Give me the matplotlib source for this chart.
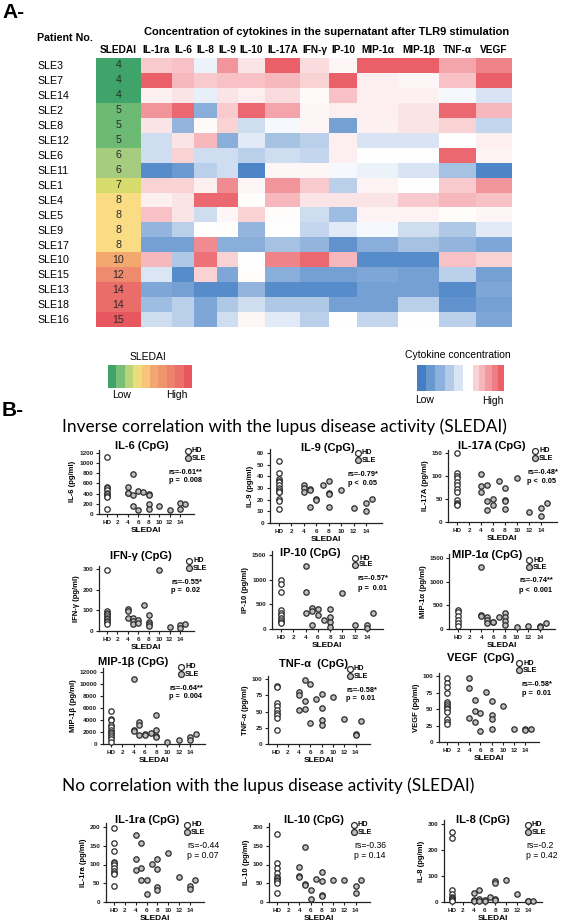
import numpy as np
import matplotlib.pyplot as plt
from matplotlib.colors import LinearSegmentedColormap

plt.rcParams['font.family'] = ['Liberation Sans', 'DejaVu Sans']

# ---------------- data ----------------
patients = ["SLE3", "SLE7", "SLE14", "SLE2", "SLE8", "SLE12", "SLE6", "SLE11", "SLE1",
            "SLE4", "SLE5", "SLE9", "SLE17", "SLE10", "SLE15", "SLE13", "SLE18", "SLE16"]
sledai = [4, 4, 4, 5, 5, 5, 6, 6, 7, 8, 8, 8, 8, 10, 12, 14, 14, 15]
cytokines = ["IL-1ra", "IL-6", "IL-8", "IL-9", "IL-10", "IL-17A", "IFN-γ", "IP-10",
             "MIP-1α", "MIP-1β", "TNF-α", "VEGF"]

# relative concentration (-1 low ... 1 high), one row per patient
heat = [
    [0.30, 0.35, -0.10, 0.60, 0.15, 0.90, 0.20, 0.05, 0.90, 0.90, 0.50, 0.70],
    [0.90, 0.40, 0.30, 0.35, 0.35, 0.40, 0.25, 0.90, 0.10, 0.05, 0.35, 0.90],
    [0.08, 0.15, -0.12, 0.15, 0.10, 0.20, 0.03, 0.35, 0.10, 0.08, -0.05, -0.20],
    [0.60, 0.85, -0.60, 0.30, 0.85, 0.50, 0.05, 0.10, 0.10, 0.15, 0.85, 0.40],
    [0.15, -0.55, 0.03, 0.25, -0.25, -0.05, 0.05, -0.70, 0.08, 0.15, 0.25, -0.30],
    [-0.25, 0.15, 0.40, -0.60, -0.15, -0.45, -0.35, 0.10, -0.20, -0.20, 0.00, 0.10],
    [-0.25, 0.25, -0.25, -0.25, -0.35, -0.25, -0.30, 0.10, 0.00, 0.00, 0.85, 0.07],
    [-0.85, -0.75, -0.35, -0.25, -0.90, 0.05, 0.05, -0.05, -0.10, -0.20, -0.45, -0.90],
    [0.25, 0.25, 0.10, 0.65, 0.05, 0.60, 0.30, -0.35, 0.07, 0.00, 0.30, 0.60],
    [0.08, 0.15, 0.85, 0.85, 0.02, 0.40, 0.15, 0.15, 0.15, 0.30, 0.40, 0.35],
    [0.35, 0.15, -0.25, 0.05, 0.25, 0.02, -0.25, -0.50, 0.07, 0.07, 0.02, 0.05],
    [-0.55, -0.35, 0.00, 0.02, -0.55, 0.00, -0.30, -0.15, -0.05, -0.25, -0.40, -0.15],
    [-0.70, -0.70, 0.65, -0.60, -0.60, -0.45, -0.55, -0.80, -0.60, -0.45, -0.55, -0.65],
    [0.40, -0.40, 0.80, 0.25, 0.00, 0.70, 0.85, 0.40, -0.85, -0.85, 0.35, 0.25],
    [-0.18, -0.85, 0.25, -0.65, 0.02, -0.60, -0.70, -0.70, -0.65, -0.70, -0.35, -0.70],
    [-0.65, -0.70, -0.85, -0.85, -0.55, -0.85, -0.85, -0.85, -0.70, -0.70, -0.85, -0.65],
    [-0.50, -0.35, -0.65, -0.40, -0.25, -0.40, -0.40, -0.70, -0.70, -0.35, -0.80, -0.70],
    [-0.25, -0.35, -0.65, -0.25, 0.05, -0.15, -0.35, 0.00, -0.30, 0.00, -0.35, -0.65],
]

# scatter data: healthy donors and SLE patients (SLE values follow the sledai list)
il6_hd = [1110, 530, 500, 470, 420, 390, 360, 330, 100]
il6_sle = [530, 420, 410, 790, 380, 150, 450, 80, 440, 400, 380, 200, 100, 160, 70, 210, 100, 190]
il9_hd = [53, 43, 38, 36, 35, 33, 30, 28, 27, 27, 21, 19, 12]
il9_sle = [33, 30, 27, 29, 28, 14, 21, 20, 33, 36, 26, 25, 14, 28, 13, 17, 10, 21]
il17a_hd = [150, 107, 100, 95, 88, 80, 72, 65, 47, 42, 40, 38]
il17a_sle = [105, 78, 65, 80, 45, 27, 50, 36, 90, 75, 48, 45, 28, 95, 22, 30, 12, 42]
ifng_hd = [295, 95, 88, 80, 72, 65, 58, 50, 42, 35]
ifng_sle = [108, 98, 62, 62, 48, 35, 55, 38, 125, 78, 45, 35, 25, 295, 20, 30, 15, 35]
ip10_hd = [1000, 920, 750, 380, 330, 280, 230, 180, 150, 120]
ip10_sle = [1280, 740, 320, 420, 370, 90, 410, 290, 190, 410, 250, 140, 50, 720, 80, 80, 30, 320]
mip1a_hd = [400, 350, 280, 200, 130, 60]
mip1a_sle = [1320, 300, 270, 260, 200, 130, 150, 150, 250, 330, 250, 160, 80, 40, 70, 60, 50, 120]
mip1b_hd = [5500, 4200, 3900, 3200, 2800, 2400, 2000, 1800, 1500, 1200, 900, 400]
mip1b_sle = [10700, 2300, 2100, 3600, 3100, 1500, 1600, 1500, 1800, 4800, 2400, 1300, 1100,
             400, 600, 1200, 700, 1700]
tnfa_hd = [90, 88, 63, 58, 52, 48, 44, 40, 22]
tnfa_sle = [80, 75, 53, 99, 66, 54, 92, 32, 69, 77, 56, 37, 29, 73, 38, 16, 14, 36]
vegf_hd = [97, 90, 84, 74, 60, 57, 55, 52, 50, 45, 35, 30, 27]
vegf_sle = [97, 82, 36, 64, 47, 30, 44, 16, 76, 62, 41, 35, 20, 55, 20, 20, 18, 19]
il1ra_hd = [198, 157, 135, 107, 104, 98, 90, 82, 78, 75, 44]
il1ra_sle = [180, 115, 85, 157, 92, 60, 60, 22, 101, 115, 88, 40, 32, 130, 66, 42, 35, 59]
il10_hd = [182, 104, 90, 78, 68, 65, 60, 55, 50, 25]
il10_sle = [93, 70, 68, 147, 48, 45, 33, 7, 62, 80, 55, 20, 17, 58, 59, 43, 23, 60]
il8_hd = [270, 245, 45, 30, 20, 15, 10, 8, 5]
il8_sle = [35, 8, 5, 48, 10, 5, 8, 3, 18, 82, 75, 12, 8, 85, 30, 3, 2, 5]

stats = {
    "IL-6": ("rs=-0.61**", "p =  0.008"), "IL-9": ("rs=-0.79*", "p <  0.05"),
    "IL-17A": ("rs=-0.48*", "p <  0.05"), "IFN-γ": ("rs=-0.55*", "p =  0.02"),
    "IP-10": ("rs=-0.57*", "p =  0.01"), "MIP-1α": ("rs=-0.74**", "p <  0.001"),
    "MIP-1β": ("rs=-0.64**", "p =  0.004"), "TNF-α": ("rs=-0.58*", "p =  0.01"),
    "VEGF": ("rs=-0.58*", "p =  0.01"), "IL-1ra": ("rs=-0.44", "p = 0.07"),
    "IL-10": ("rs=-0.36", "p = 0.14"), "IL-8": ("rs=-0.2", "p = 0.42"),
}

# ---------------- helpers ----------------
W, H = 567, 923
fig = plt.figure(figsize=(W / 100, H / 100), dpi=100)


def add_box(l, t, r, b):
    return fig.add_axes([l / W, 1 - b / H, (r - l) / W, (b - t) / H])


def ftext(x, y, s, **kw):
    fig.text(x / W, 1 - y / H, s, **kw)


cyto_cmap = LinearSegmentedColormap.from_list(
    "cyto", [(0, "#3a78c2"), (0.5, "#ffffff"), (1, "#e84e58")])
sled_cmap = LinearSegmentedColormap.from_list(
    "sled", [(0, "#3fa46a"), (1 / 11, "#6cba74"), (2 / 11, "#a6cc7f"), (3 / 11, "#d6dc6c"),
             (4 / 11, "#f9dc84"), (6 / 11, "#f3a86f"), (8 / 11, "#ee8a6e"),
             (10 / 11, "#eb6d69"), (1, "#e8575f")])

# ---------------- panel A: heatmap ----------------
ftext(2, 12, "A-", fontsize=15, fontweight="bold", va="center")
col_edges = [141, 172, 194, 217, 238, 265, 300, 329, 357, 398, 439, 476, 512]
n = len(patients)
ax = add_box(96, 58, 512, 327)
ax.set_xlim(96, 512)
ax.set_ylim(n, 0)
ax.axis("off")
ax.pcolormesh(col_edges, np.arange(n + 1), np.array(heat), cmap=cyto_cmap, vmin=-1, vmax=1)
ax.pcolormesh([96, 141], np.arange(n + 1), np.array(sledai)[:, None], cmap=sled_cmap,
              vmin=4, vmax=15)
for i, (pname, s) in enumerate(zip(patients, sledai)):
    ax.text(118.5, i + 0.5, str(s), ha="center", va="center", fontsize=7.7, color="#2a2a2a")
    ax.text(37, i + 0.55, pname, ha="left", va="center", fontsize=7.7, clip_on=False)
ax.text(118.5, -0.2, "SLEDAI", ha="center", va="bottom", fontsize=7.3, fontweight="bold")
for j, c in enumerate(cytokines):
    ax.text((col_edges[j] + col_edges[j + 1]) / 2, -0.2, c, ha="center", va="bottom",
            fontsize=7.3, fontweight="bold")
ftext(327, 32, "Concentration of cytokines in the supernatant after TLR9 stimulation",
      ha="center", va="center", fontsize=8, fontweight="bold")
ftext(37, 38, "Patient No.", ha="left", va="center", fontsize=7.7, fontweight="bold")

# legends
lg = add_box(108, 365, 192, 388)
lg.pcolormesh(np.arange(11), [0, 1], np.linspace(4, 15, 10)[None, :], cmap=sled_cmap,
              vmin=4, vmax=15)
lg.axis("off")
ftext(148, 357, "SLEDAI", ha="center", va="center", fontsize=7.5)
ftext(122, 395, "Low", ha="center", va="center", fontsize=7.5)
ftext(177, 395, "High", ha="center", va="center", fontsize=7.5)

lb = add_box(417, 365, 463, 391)
lb.pcolormesh(np.arange(6), [0, 1], np.linspace(-0.95, -0.2, 5)[None, :], cmap=cyto_cmap,
              vmin=-1, vmax=1)
lb.axis("off")
lr = add_box(473, 365, 504, 391)
lr.pcolormesh(np.arange(6), [0, 1], np.linspace(0.25, 0.9, 5)[None, :], cmap=cyto_cmap,
              vmin=-1, vmax=1)
lr.axis("off")
ftext(458, 355, "Cytokine concentration", ha="center", va="center", fontsize=7.5)
ftext(425, 400, "Low", ha="center", va="center", fontsize=7.5)
ftext(493, 401, "High", ha="center", va="center", fontsize=7.5)

# ---------------- panel B: scatter plots ----------------
ftext(2, 411, "B-", fontsize=15, fontweight="bold", va="center")
ftext(62, 427, "Inverse correlation with the lupus disease activity (SLEDAI)",
      ha="left", va="center", fontsize=12.4, family="Lato")
ftext(62, 786, "No correlation with the lupus disease activity (SLEDAI)",
      ha="left", va="center", fontsize=12.4, family="Lato")

sle_x = np.array(sledai) / 2.0
x_ticklabels = ["HD", "2", "4", "6", "8", "10", "12", "14"]
XMIN, XMAX = -0.75, 8.3

# name, hd, sle, top tick, step, title
panels = [
    ("IL-6", il6_hd, il6_sle, 1200, 200, "IL-6 (CpG)"),
    ("IL-9", il9_hd, il9_sle, 60, 10, "IL-9 (CpG)"),
    ("IL-17A", il17a_hd, il17a_sle, 150, 50, "IL-17A (CpG)"),
    ("IFN-γ", ifng_hd, ifng_sle, 300, 100, "IFN-γ (CpG)"),
    ("IP-10", ip10_hd, ip10_sle, 1500, 500, "IP-10 (CpG)"),
    ("MIP-1α", mip1a_hd, mip1a_sle, 1500, 500, "MIP-1α (CpG)"),
    ("MIP-1β", mip1b_hd, mip1b_sle, 12000, 2000, "MIP-1β (CpG)"),
    ("TNF-α", tnfa_hd, tnfa_sle, 100, 25, "TNF-α  (CpG)"),
    ("VEGF", vegf_hd, vegf_sle, 100, 25, "VEGF  (CpG)"),
    ("IL-1ra", il1ra_hd, il1ra_sle, 200, 50, "IL-1ra (CpG)"),
    ("IL-10", il10_hd, il10_sle, 200, 50, "IL-10 (CpG)"),
    ("IL-8", il8_hd, il8_sle, 300, 100, "IL-8 (CpG)"),
]
# pixel layout: x of HD, x of 14, y of 0, y of top tick, title dx, title y, legend dx, stats dx
layout = [
    (106.7, 180, 514, 452.7, 35, 446, 81, 62),
    (279, 366, 523, 453, 49, 448, 79, 69),
    (457, 541, 522, 453, 35, 446, 78, 70),
    (107, 180, 631, 569, 34, 556, 82, 64),
    (281, 367, 629, 555, 29, 553, 74, 77),
    (458, 540, 629, 558, 29, 555, 71, 61),
    (111, 190, 744, 671.5, 22, 662, 70, 58),
    (276.5, 355.5, 744, 679, 37, 664, 73, 70),
    (447, 525, 742, 676, 34, 658, 72, 75),
    (114, 190, 902, 827, 33, 820, 73, 73),
    (277, 355.5, 902, 827, 37, 820, 77, 77),
    (452, 528, 902, 824, 31, 820, 76, 74),
]

ec = "#2b2b2b"
for k, ((name, hd, sle, top, step, title), lay) in enumerate(zip(panels, layout)):
    x_hd, x_14, y0, y_top, t_dx, t_y, l_dx, s_dx = lay
    ppu = (x_14 - x_hd) / 7.0
    ppv = (y0 - y_top) / top
    ymax = top * 1.05
    left = x_hd + XMIN * ppu
    right = x_hd + XMAX * ppu
    ax = add_box(left, y0 - ymax * ppv, right, y0)
    ax.set_xlim(XMIN, XMAX)
    ax.set_ylim(0, ymax)

    def px(x, y):
        return (x - x_hd) / ppu, (y0 - y) / ppv

    ax.scatter(np.zeros(len(hd)), hd, s=15, facecolor="white", edgecolor=ec,
               linewidth=0.9, clip_on=False, zorder=3)
    ax.scatter(sle_x, sle, s=15, facecolor="#bdbdbd", edgecolor=ec, linewidth=0.9,
               clip_on=False, zorder=3)
    for side in ("top", "right"):
        ax.spines[side].set_visible(False)
    for side in ("left", "bottom"):
        ax.spines[side].set_linewidth(0.9)
        ax.spines[side].set_color("#222222")
    ax.set_xticks(range(8))
    ax.set_xticklabels(x_ticklabels)
    ax.set_yticks(np.arange(0, top + step / 2, step))
    ax.tick_params(labelsize=4.6, length=2.5, width=0.8, pad=1.5, colors="#222222")
    for lab in ax.get_xticklabels() + ax.get_yticklabels():
        lab.set_fontweight("bold")
    ax.set_xlabel("SLEDAI", fontsize=6, fontweight="bold", labelpad=2)
    ax.set_ylabel(f"{name} (pg/ml)", fontsize=5.5, fontweight="bold", labelpad=2)

    tx, ty = px(x_hd + t_dx, t_y)
    ax.text(tx, ty, title, ha="center", va="center", fontsize=8, fontweight="bold")
    lx, ly1 = px(x_hd + l_dx, t_y + 5)
    _, ly2 = px(0, t_y + 12)
    ax.scatter([lx], [ly1], s=18, facecolor="white", edgecolor=ec, linewidth=0.9, clip_on=False)
    ax.scatter([lx], [ly2], s=18, facecolor="#bdbdbd", edgecolor=ec, linewidth=0.9, clip_on=False)
    tdx = 4 / ppu
    ax.text(lx + tdx, ly1, "HD", ha="left", va="center", fontsize=5.3, fontweight="bold")
    ax.text(lx + tdx, ly2, "SLE", ha="left", va="center", fontsize=5.3, fontweight="bold")
    rs, p = stats[name]
    sx, sy1 = px(x_hd + s_dx, t_y + 26)
    _, sy2 = px(0, t_y + 35)
    weight = "bold" if k < 9 else "normal"
    fs = 5.3 if k < 9 else 6.2
    ax.text(sx, sy1, rs, ha="left", va="center", fontsize=fs, fontweight=weight)
    ax.text(sx, sy2, p, ha="left", va="center", fontsize=fs, fontweight=weight)

fig.savefig("out.png", dpi=100)
